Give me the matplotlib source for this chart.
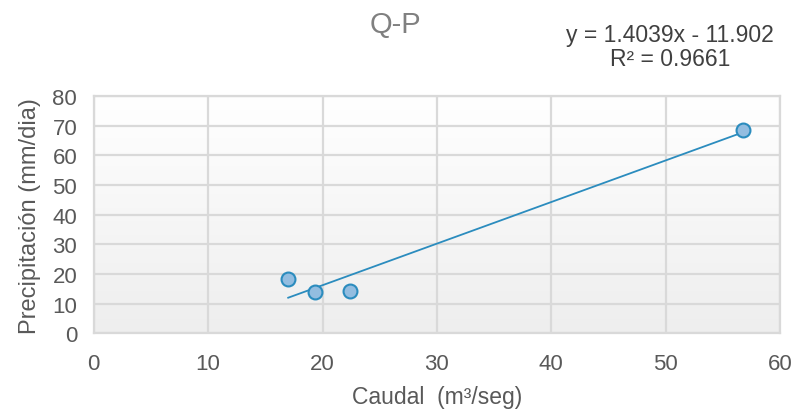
import matplotlib.pyplot as plt
import numpy as np
from matplotlib.colors import LinearSegmentedColormap

plt.rcParams['font.family'] = ['Liberation Sans', 'DejaVu Sans']

# Datos
caudal = [17.0, 19.3, 22.4, 56.8]
precipitacion = [18.2, 13.9, 14.1, 68.6]
pendiente = 1.4039
intercepto = -11.902
r2 = 0.9661

fig = plt.figure(figsize=(7.95, 4.10), dpi=100)
ax = fig.add_axes([0.118, 0.185, 0.863, 0.578])

# Fondo con degradado suave (gris abajo, blanco arriba)
fondo = LinearSegmentedColormap.from_list('fondo', ['#eeeeee', '#ffffff'])
grad = np.linspace(0, 1, 256).reshape(-1, 1)
ax.imshow(grad, extent=[0, 1, 0, 1], transform=ax.transAxes, cmap=fondo,
          aspect='auto', zorder=0, origin='lower')

ax.set_xlim(0, 60)
ax.set_ylim(0, 80)
ax.set_xticks(range(0, 61, 10))
ax.set_yticks(range(0, 81, 10))
ax.grid(True, color='#d9d9d9', linewidth=1.6, zorder=1)
ax.set_axisbelow(True)
for s in ax.spines.values():
    s.set_color('#d9d9d9')
    s.set_linewidth(1.6)
ax.tick_params(length=0, labelsize=16, colors='#595959')
ax.tick_params(axis='x', pad=14)
ax.tick_params(axis='y', pad=12)

# Linea de tendencia
xt = np.array([min(caudal), max(caudal)])
ax.plot(xt, pendiente * xt + intercepto, color='#2b8cbe', linewidth=1.3, zorder=3)

ax.plot(caudal, precipitacion, 'o', markersize=10, markerfacecolor='#93bde0',
        markeredgecolor='#2b8cbe', markeredgewidth=1.5, zorder=4)

ax.set_xlabel('Caudal  (m³/seg)', fontsize=16.5, color='#595959', labelpad=8)
ax.set_ylabel('Precipitación (mm/dia)', fontsize=17, color='#595959', labelpad=8)

fig.text(0.497, 0.94, 'Q-P', fontsize=21, color='#808080', ha='center', va='center')
fig.text(0.843, 0.885, 'y = 1.4039x - 11.902\nR² = 0.9661', fontsize=16.5,
         color='#404040', ha='center', va='center', linespacing=1.05)

fig.savefig('out.png', dpi=100)
